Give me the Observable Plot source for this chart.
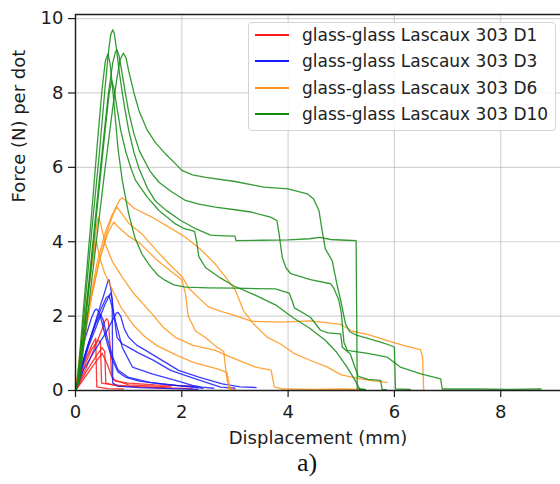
<!DOCTYPE html>
<html>
<head>
<meta charset="utf-8">
<script src="https://cdn.jsdelivr.net/npm/d3@7"></script>
<script src="https://cdn.jsdelivr.net/npm/@observablehq/plot@0.6"></script>
<style>
  body { margin: 0; background: #fff; }
  #fig { position: relative; width: 560px; height: 484px; overflow: hidden; font-family: "DejaVu Sans", sans-serif; }
  #legend { position: absolute; left: 248px; top: 22px; width: 308px; height: 109px; box-sizing: border-box;
            border: 1px solid #d4d4d4; border-radius: 4px; background: rgba(255,255,255,0.85); }
  .entry { position: absolute; left: 0; width: 300px; height: 20px; font-size: 17px; color: #222; white-space: nowrap; }
  .entry .swatch { position: absolute; left: 6px; top: 9px; width: 34px; height: 2px; }
  .entry .label { position: absolute; left: 53px; top: 0; line-height: 20px; }
  #caption { position: absolute; left: 297px; top: 450px; font-family: "Liberation Serif", "Times New Roman", serif;
             font-size: 26px; line-height: 26px; color: #111; }
</style>
</head>
<body>
<div id="fig"></div>
<script>
// Axis ticks
const xTicks = [0, 2, 4, 6, 8];
const yTicks = [0, 2, 4, 6, 8, 10];

// Series names and colours (one entry per dot diameter)
const seriesNames = [
  "glass-glass Lascaux 303 D1",
  "glass-glass Lascaux 303 D3",
  "glass-glass Lascaux 303 D6",
  "glass-glass Lascaux 303 D10"
];
const seriesColors = ["#ff1a1a", "#1a1aff", "#ff9418", "#118a11"];

// Force–displacement curves, [displacement (mm), force (N)] per test
const curvesD1 = [
  [[0,0],[0.2,0.6],[0.4,1.3],[0.5,1.65],[0.56,1.88],[0.59,1.93],[0.62,1.85],[0.65,1.2],[0.68,0.4],[0.75,0.25],[1.0,0.2],[1.5,0.15],[2.0,0.13],[2.2,0.12]],
  [[0,0],[0.15,0.6],[0.3,1.1],[0.42,1.35],[0.47,1.3],[0.49,0.2],[0.7,0.15],[1.2,0.1],[1.7,0.07]],
  [[0,0],[0.15,0.7],[0.3,1.2],[0.38,1.4],[0.40,0.1],[0.6,0.05],[0.9,0.04]],
  [[0,0],[0.2,0.5],[0.4,0.95],[0.5,1.15],[0.55,1.05],[0.57,0.2],[0.8,0.12],[1.5,0.08],[2.2,0.05]],
  [[0,0],[0.2,0.4],[0.4,0.8],[0.5,1.0],[0.6,0.7],[0.7,0.3],[1.0,0.15],[1.8,0.1]]
];

const curvesD3 = [
  [[0,0],[0.1,0.55],[0.3,1.5],[0.45,2.2],[0.55,2.65],[0.61,2.94],[0.63,2.98],[0.67,2.7],[0.72,2.06],[0.78,1.43],[0.88,1.25],[1.0,1.16],[1.2,1.0],[1.47,0.81],[1.79,0.54],[2.16,0.36],[2.5,0.2],[2.73,0.09],[3.0,0.06]],
  [[0,0],[0.1,0.5],[0.25,1.2],[0.4,1.75],[0.55,2.3],[0.66,2.62],[0.69,2.45],[0.70,0.2],[0.8,0.12],[1.2,0.08],[1.8,0.05],[2.3,0.03]],
  [[0,0],[0.15,0.55],[0.35,1.05],[0.55,1.5],[0.7,1.9],[0.77,2.08],[0.80,2.10],[0.85,2.0],[0.92,1.65],[1.0,1.43],[1.15,1.22],[1.32,1.08],[1.63,0.81],[1.94,0.54],[2.32,0.36],[2.76,0.18],[3.1,0.1],[3.4,0.08]],
  [[0,0],[0.08,0.8],[0.18,1.4],[0.3,1.95],[0.36,2.15],[0.39,2.19],[0.45,2.1],[0.52,1.7],[0.6,1.25],[0.7,0.8],[0.8,0.5],[0.95,0.35],[1.2,0.25],[1.6,0.18],[2.0,0.12],[2.4,0.06]],
  [[0,0],[0.12,0.7],[0.3,1.5],[0.45,2.1],[0.58,2.5],[0.63,2.55],[0.68,2.3],[0.75,1.88],[0.88,1.16],[1.07,0.63],[1.44,0.45],[1.88,0.27],[2.2,0.14],[2.38,0.09],[2.6,0.06]],
  [[0,0],[0.1,0.6],[0.25,1.3],[0.38,1.8],[0.47,2.05],[0.52,1.9],[0.6,1.4],[0.7,0.9],[0.8,0.55],[1.0,0.35],[1.4,0.22],[1.9,0.14],[2.3,0.1]]
];

const curvesD6 = [
  [[0,0],[0.15,1.2],[0.3,2.5],[0.45,3.5],[0.6,4.3],[0.75,4.9],[0.83,5.12],[0.88,5.18],[0.95,5.1],[1.1,4.9],[1.44,4.66],[1.82,4.34],[2.07,4.12],[2.35,3.8],[2.63,3.40],[2.85,3.0],[3.01,2.69],[3.16,2.15],[3.35,1.79],[3.61,1.43],[3.86,1.25],[4.11,1.0],[4.4,0.82],[4.74,0.63],[5.0,0.42],[5.36,0.31],[5.6,0.26],[5.86,0.22]],
  [[0,0],[0.1,0.8],[0.25,2.2],[0.4,3.4],[0.55,4.2],[0.68,4.7],[0.78,4.93],[0.85,4.8],[1.0,4.5],[1.25,4.21],[1.5,3.8],[1.76,3.40],[2.01,3.05],[2.13,2.75],[2.35,2.45],[2.51,2.24],[2.75,2.12],[2.95,2.04],[3.32,1.86],[3.86,1.84],[4.42,1.87],[4.99,1.78],[5.2,1.6],[5.49,1.51],[5.99,1.29],[6.2,1.2],[6.49,1.10],[6.53,0.9],[6.55,0.03]],
  [[0,0],[0.1,1.2],[0.22,2.5],[0.34,3.7],[0.4,4.45],[0.43,4.66],[0.47,4.5],[0.56,3.94],[0.7,3.45],[0.88,3.05],[1.1,2.6],[1.44,2.06],[1.65,1.7],[1.88,1.43],[2.2,1.22],[2.63,1.08],[3.0,0.85],[3.39,0.63],[3.68,0.55],[3.74,0.1],[3.9,0.04],[4.5,0.03],[5.0,0.04],[5.4,0.03]],
  [[0,0],[0.1,0.9],[0.25,2.2],[0.45,3.5],[0.6,4.2],[0.72,4.53],[0.8,4.4],[1.0,4.15],[1.22,3.95],[1.5,3.55],[1.8,3.2],[2.0,2.98],[2.07,2.6],[2.12,2.0],[2.26,1.6],[2.45,1.42],[2.63,1.2],[2.79,1.05],[2.83,0.5],[2.88,0.05],[3.0,0.03]],
  [[0,0],[0.1,1.0],[0.22,2.4],[0.32,3.5],[0.39,4.02],[0.45,3.6],[0.55,3.15],[0.66,2.81],[0.85,2.25],[1.10,1.74],[1.3,1.45],[1.54,1.20],[1.9,0.95],[2.23,0.75],[2.67,0.58],[2.85,0.48],[2.9,0.1],[2.92,0.04]]
];

const curvesD10 = [
  [[0,0],[0.05,0.3],[0.15,1.9],[0.3,4.2],[0.45,6.4],[0.56,8.2],[0.62,9.1],[0.66,9.55],[0.70,9.70],[0.73,9.6],[0.77,9.2],[0.82,8.6],[0.88,8.0],[0.95,7.4],[1.0,7.0],[1.1,6.4],[1.2,5.95],[1.35,5.45],[1.5,5.1],[1.7,4.85],[1.98,4.57],[2.26,4.35],[2.54,4.18],[2.8,4.16],[3.0,4.15],[3.02,4.03],[3.5,4.04],[4.0,4.05],[4.4,4.08],[4.6,4.12],[4.8,4.06],[5.1,4.04],[5.28,4.03],[5.30,0.05],[5.45,0.03]],
  [[0,0],[0.04,0.3],[0.15,2.2],[0.3,4.7],[0.42,6.8],[0.5,8.1],[0.56,8.85],[0.61,9.05],[0.65,8.8],[0.7,8.1],[0.75,7.3],[0.8,6.5],[0.88,5.65],[1.0,4.75],[1.12,4.1],[1.25,3.67],[1.4,3.35],[1.55,3.1],[1.69,2.96],[1.85,2.84],[2.07,2.78],[2.5,2.76],[3.0,2.75],[3.76,2.73],[4.02,2.62],[4.08,2.4],[4.12,2.22],[4.42,1.97],[4.61,1.62],[4.75,1.55],[4.99,1.52],[5.02,1.16],[5.17,0.98],[5.25,0.65],[5.32,0.38],[5.5,0.3],[5.74,0.27],[5.77,0.03],[5.85,0.02]],
  [[0,0],[0.06,0.3],[0.2,2.2],[0.35,4.3],[0.5,6.4],[0.62,8.0],[0.7,8.8],[0.75,9.1],[0.78,9.16],[0.82,9.0],[0.88,8.5],[0.95,7.9],[1.0,7.5],[1.1,6.9],[1.2,6.45],[1.4,5.9],[1.57,5.6],[1.8,5.35],[2.07,5.11],[2.3,5.02],[2.63,4.93],[3.0,4.86],[3.3,4.8],[3.67,4.66],[3.79,4.57],[3.83,4.21],[3.89,3.58],[3.96,3.3],[4.05,3.14],[4.42,2.98],[4.80,2.87],[4.86,2.75],[4.95,2.45],[5.0,2.1],[5.05,1.3],[5.11,1.08],[5.5,1.0],[5.86,0.90],[6.11,0.63],[6.5,0.45],[6.87,0.31],[6.9,0.04],[7.5,0.04],[8.2,0.03],[8.76,0.04]],
  [[0,0],[0.08,0.3],[0.25,2.3],[0.4,4.1],[0.55,5.9],[0.7,7.6],[0.78,8.4],[0.84,8.9],[0.90,9.07],[0.95,8.95],[1.0,8.6],[1.1,8.0],[1.2,7.5],[1.35,7.0],[1.5,6.67],[1.7,6.35],[1.88,6.10],[2.0,5.92],[2.2,5.8],[2.45,5.73],[3.0,5.62],[3.54,5.47],[4.0,5.42],[4.36,5.29],[4.48,5.15],[4.58,4.84],[4.64,4.30],[4.70,3.81],[4.83,3.49],[4.92,2.85],[4.99,2.42],[5.08,1.79],[5.16,1.58],[5.3,1.48],[5.74,1.30],[5.93,1.21],[6.0,1.17],[6.02,0.04],[6.3,0.03]],
  [[0,0],[0.07,0.3],[0.2,2.0],[0.35,4.1],[0.5,6.2],[0.58,7.3],[0.63,7.95],[0.68,8.33],[0.72,8.15],[0.78,7.6],[0.85,7.0],[0.95,6.4],[1.05,5.95],[1.13,5.65],[1.35,5.2],[1.57,4.84],[1.88,4.48],[2.05,4.35],[2.24,4.28],[2.28,4.0],[2.32,3.6],[2.45,3.3],[2.70,3.05],[2.98,2.81],[3.4,2.55],[3.79,2.28],[4.1,1.95],[4.4,1.68],[4.7,1.35],[4.9,1.05],[5.1,0.65],[5.25,0.3],[5.35,0.03],[5.45,0.02]]
];

// Flatten into rows for Plot: one row per sample, tagged with series and test id
const allSeries = [curvesD1, curvesD3, curvesD6, curvesD10];
const rows = [];
allSeries.forEach((curves, s) => {
  curves.forEach((pts, c) => {
    pts.forEach(([x, y]) => rows.push({x, y, series: seriesNames[s], test: `${s}-${c}`}));
  });
});

const xMax = 9.125, yMax = 10.11;
const ink = "#1c1c1c";

const chart = Plot.plot({
  width: 560,
  height: 450,
  marginLeft: 75,
  marginRight: 0,
  marginTop: 14,
  marginBottom: 60,
  style: {fontFamily: "DejaVu Sans, sans-serif", fontSize: "18px", color: ink, background: "white"},
  x: {domain: [0, xMax]},
  y: {domain: [0, yMax]},
  color: {domain: seriesNames, range: seriesColors},
  marks: [
    Plot.gridX(xTicks, {stroke: "#b8b8b8", strokeOpacity: 0.6, strokeWidth: 1.2}),
    Plot.gridY(yTicks, {stroke: "#b8b8b8", strokeOpacity: 0.6, strokeWidth: 1.2}),
    Plot.line(rows, {x: "x", y: "y", z: "test", stroke: "series", strokeWidth: 1.3, strokeOpacity: 0.85}),
    Plot.ruleX([0], {stroke: ink, strokeWidth: 1.4}),
    Plot.ruleY([0, yMax], {stroke: ink, strokeWidth: 1.4}),
    Plot.axisX(xTicks, {tickSize: 7, tickPadding: 8, label: null, stroke: ink, fill: ink, strokeWidth: 1.2}),
    Plot.axisY(yTicks, {tickSize: 7, tickPadding: 5, label: null, stroke: ink, fill: ink, strokeWidth: 1.2}),
    Plot.text(["Displacement (mm)"], {frameAnchor: "bottom", dy: 48, lineAnchor: "middle", fill: ink, fontSize: 18}),
    Plot.text(["Force (N) per dot"], {frameAnchor: "left", dx: -56, rotate: -90, lineAnchor: "middle", fill: ink, fontSize: 18})
  ]
});

const fig = document.getElementById("fig");
fig.appendChild(chart);

// Legend box in the upper right of the axes
const legend = document.createElement("div");
legend.id = "legend";
seriesNames.forEach((name, i) => {
  const e = document.createElement("div");
  e.className = "entry";
  e.style.top = Math.round(2 + i * 26.3) + "px";
  const sw = document.createElement("div");
  sw.className = "swatch";
  sw.style.backgroundColor = seriesColors[i];
  const lb = document.createElement("div");
  lb.className = "label";
  lb.textContent = name;
  e.appendChild(sw);
  e.appendChild(lb);
  legend.appendChild(e);
});
fig.appendChild(legend);

const cap = document.createElement("div");
cap.id = "caption";
cap.textContent = "a)";
fig.appendChild(cap);
</script>
</body>
</html>
